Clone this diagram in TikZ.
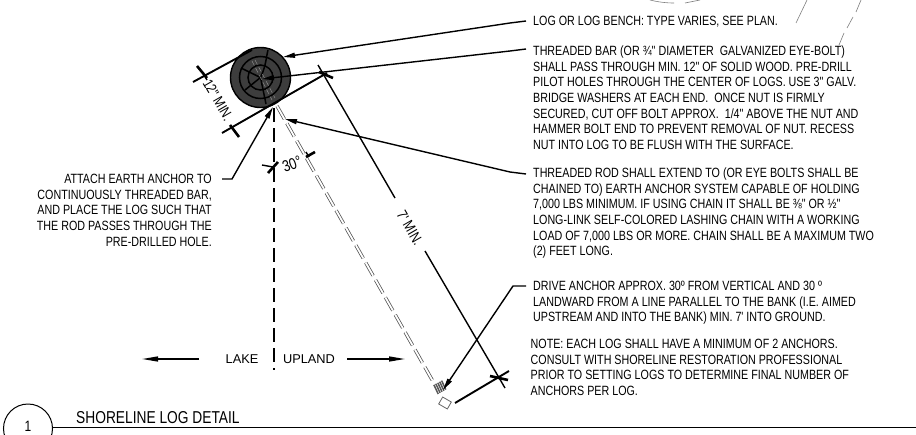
\documentclass[tikz,border=0pt]{standalone}
\usepackage{fontspec}
\usetikzlibrary{arrows.meta,calc}
\newfontfamily\drawfont[FakeStretch=0.8]{Liberation Sans}
\newfontfamily\plainfont{Liberation Sans}
\tikzset{
  note/.style={inner sep=0pt,font=\drawfont\fontsize{13.4}{15.65}\selectfont,align=left,anchor=north west},
  noter/.style={note,align=right,anchor=north east},
  lbl/.style={inner sep=0pt,font=\drawfont\fontsize{14.6}{15}\selectfont},
  sidelbl/.style={inner sep=0pt,font=\plainfont\fontsize{12.8}{15}\selectfont},
  leader/.style={line width=1.4pt,-{Triangle[length=12pt,width=5pt]}},
  dimline/.style={line width=1.4pt},
  ext/.style={line width=1.9pt},
  tick/.style={line width=2.6pt},
  rod/.style={draw=black!68,line width=0.75pt,double=white,double distance=1.8pt,dash pattern=on 15pt off 5pt},
  faint/.style={draw=black!50,line width=0.6pt},
  flowarrow/.style={line width=1.4pt,-{Triangle[length=16pt,width=5pt]}}
}
\begin{document}
\begin{tikzpicture}[x=1pt,y=-1pt]
\useasboundingbox (0,0) rectangle (916,434);
\clip (0,0) rectangle (916,434);
\fill[white] (0,0) rectangle (916,434);
% background fragments
\draw[faint] (650,0) .. controls (658,2) and (666,3) .. (674,3);
\draw[faint] (685,3) -- (700,0);
\draw[faint] (796,23) -- (807,0);
\draw[faint] (861,0) -- (856,12) (853,17) -- (847,28) (844,33) -- (839,45);
% named points
\coordinate (c) at (260.5,77.5);
\coordinate (rodtop) at (277,106);
\coordinate (anchor) at (435,385);
\coordinate (tA) at (204,75);
% log
\fill[black!76] (c) circle (30);
\draw[line width=1.4pt] (c) circle (30);
\draw[line width=1.5pt] (c) circle (21);
\draw[line width=1.5pt] (c) circle (12.5);
\draw[line width=1.5pt] (c) -- (241,68) (c) .. controls (266,66) and (266,58) .. (268,50)
  (c) -- (266,104) (c) -- (245,90);
\draw[draw=black!45,line width=0.5pt,dash pattern=on 5pt off 3pt] (252,61) -- (272,100) (255,60) -- (275,98);
% rod and anchor
\draw[rod] (rodtop) -- (anchor);
\foreach \i in {0,1,2,3,4}{
  \draw[black!65,line width=1.5pt] ($(434,385)+(\i*1.9,-1.1*\i)$) -- ++(4.2,9);
}
\draw[black!60,line width=0.8pt,rotate around={-30:(445,403)}] (440,399) rectangle (450,407);
% vertical reference
\draw[line width=2pt,dash pattern=on 14pt off 6pt] (273.5,108) -- (273.5,370);
% 12 inch dimension
\draw[ext] (193,82) -- (252,50);
\draw[ext] (222,133) -- (327,73);
\draw[tick] (197,66) -- (207,78);
\draw[tick] (230,125) -- (239,137);
\draw[dimline] (tA) -- ++(3,5);
% 7 ft dimension
\draw[dimline] (318,65) -- (395,198) (425,251) -- (505,388);
\draw[tick] (319,72) -- (333,78);
\draw[tick] (490,376) -- (508,380);
\draw[ext] (455,403) -- (509,371);
% 30 degree dimension
\draw[dimline] (262,165) -- (273,167);
\draw[tick] (268,173) -- (278,162);
\draw[dimline] (306,152) -- (309,157);
\draw[tick] (306,157) -- (315,152);
% leaders
\coordinate (l1) at (526,21);
\coordinate (l2) at (526,49);
\coordinate (l3) at (526,174);
\coordinate (l4) at (526,286);
\coordinate (l5) at (222,179);
\draw[leader] (l1) -- (510,23) -- (283,57);
\draw[leader] (l2) -- (510,51) -- (262,79);
\draw[leader] (l3) -- (510,172) -- (285,119);
\draw[leader] (l4) -- (513,286) -- (443,390);
\draw[leader] (l5) -- (232,179) -- (273,107);
% flow arrows
\draw[flowarrow] (199,359) -- (142,359);
\draw[flowarrow] (347,359) -- (405,359);
% title
\draw[line width=1pt] (28,428.5) circle (24.5);
\draw[line width=1pt] (52,427) -- (916,427);
% texts
\node[note] (n1) at (533,14) {\strut LOG OR LOG BENCH: TYPE VARIES, SEE PLAN.};
\node[note] (n2) at (533,44.5) {\strut THREADED BAR (OR ¾" DIAMETER\ \ GALVANIZED EYE-BOLT)\\
SHALL PASS THROUGH MIN. 12" OF SOLID WOOD. PRE-DRILL\\
PILOT HOLES THROUGH THE CENTER OF LOGS. USE 3" GALV.\\
BRIDGE WASHERS AT EACH END.\ \ ONCE NUT IS FIRMLY\\
SECURED, CUT OFF BOLT APPROX.\ \ 1/4" ABOVE THE NUT AND\\
HAMMER BOLT END TO PREVENT REMOVAL OF NUT. RECESS\\
NUT INTO LOG TO BE FLUSH WITH THE SURFACE.};
\node[note] (n3) at (533,166.5) {\strut THREADED ROD SHALL EXTEND TO (OR EYE BOLTS SHALL BE\\
CHAINED TO) EARTH ANCHOR SYSTEM CAPABLE OF HOLDING\\
7,000 LBS MINIMUM. IF USING CHAIN IT SHALL BE ⅜" OR ½"\\
LONG-LINK SELF-COLORED LASHING CHAIN WITH A WORKING\\
LOAD OF 7,000 LBS OR MORE. CHAIN SHALL BE A MAXIMUM TWO\\
(2) FEET LONG.};
\node[note] (n4) at (533,279.5) {\strut DRIVE ANCHOR APPROX. 30º FROM VERTICAL AND 30 º\\
LANDWARD FROM A LINE PARALLEL TO THE BANK (I.E. AIMED\\
UPSTREAM AND INTO THE BANK) MIN. 7' INTO GROUND.};
\node[note] (n5) at (530.5,337.5) {\strut NOTE: EACH LOG SHALL HAVE A MINIMUM OF 2 ANCHORS.\\
CONSULT WITH SHORELINE RESTORATION PROFESSIONAL\\
PRIOR TO SETTING LOGS TO DETERMINE FINAL NUMBER OF\\
ANCHORS PER LOG.};
\node[noter] (n6) at (212,172.5) {\strut ATTACH EARTH ANCHOR TO\\
CONTINUOUSLY THREADED BAR,\\
AND PLACE THE LOG SUCH THAT\\
THE ROD PASSES THROUGH THE\\
PRE-DRILLED HOLE.};
\node[sidelbl] (lake) at (242,359) {LAKE};
\node[sidelbl] (upland) at (309,359) {UPLAND};
\node[lbl,rotate=-60] (dimA) at (218,100) {12" MIN.};
\node[lbl,rotate=-60,font=\drawfont\fontsize{15}{15}\selectfont] (dimB) at (410,228) {7' MIN.};
\node[lbl,rotate=20,font=\drawfont\fontsize{16}{15}\selectfont] (dimC) at (292,164) {30°};
\node[inner sep=0pt,font=\drawfont\fontsize{17.2}{18}\selectfont,anchor=base west] (title) at (76,423) {SHORELINE LOG DETAIL};
\node[inner sep=0pt,font=\drawfont\fontsize{15}{15}\selectfont] (num) at (28,426.5) {1};
\end{tikzpicture}
\end{document}
